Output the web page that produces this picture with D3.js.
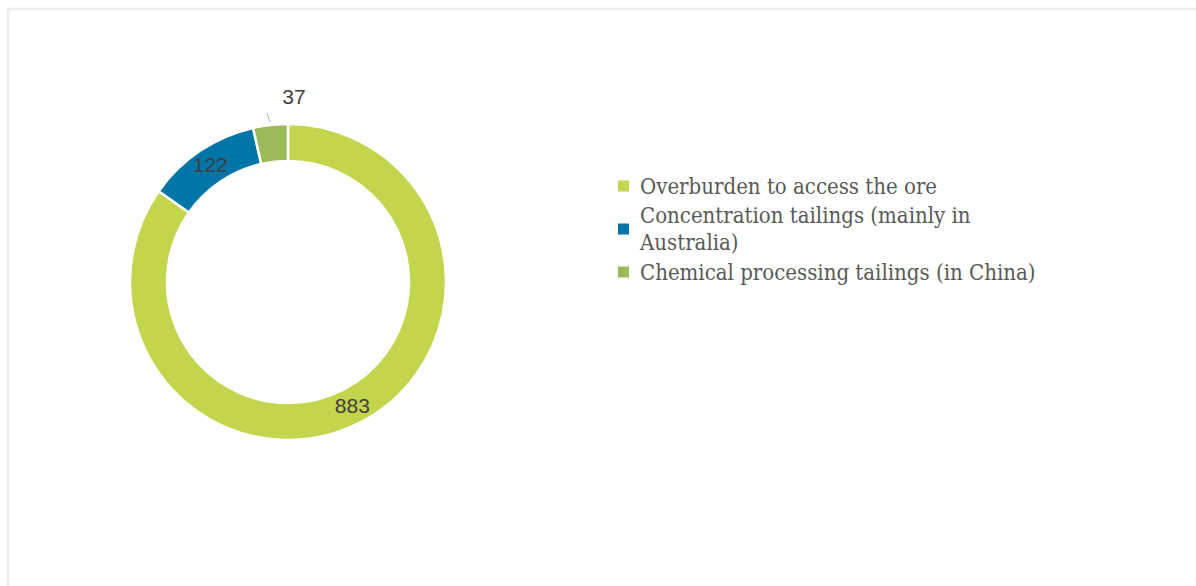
<!DOCTYPE html>
<html><head><meta charset="utf-8">
<script src="https://cdn.jsdelivr.net/npm/d3@7"></script>
<style>
html,body{margin:0;padding:0;background:#fff;}
svg{display:block;}
</style></head>
<body>
<svg id="chart" width="1196" height="586"></svg>
<script>
const categories = ["Overburden to access the ore", "Concentration tailings (mainly in Australia)", "Chemical processing tailings (in China)"];
const legendLines = [["Overburden to access the ore"], ["Concentration tailings (mainly in", "Australia)"], ["Chemical processing tailings (in China)"]];
const values = [883, 122, 37];
const colors = ["#C5D44D", "#0076A8", "#9BBB59"];

const svg = d3.select("#chart");
// frame
svg.append("rect").attr("x", 8).attr("y", 9).attr("width", 1200).attr("height", 600)
  .attr("fill", "none").attr("stroke", "#ececec").attr("stroke-width", 2.5);

const cx = 288, cy = 282, rOuter = 158, rInner = 121;
const pie = d3.pie().sort(null).value(d => d)(values);
const arc = d3.arc().innerRadius(rInner).outerRadius(rOuter);
const g = svg.append("g").attr("transform", `translate(${cx},${cy})`);
g.selectAll("path").data(pie).join("path")
  .attr("d", arc).attr("fill", (d, i) => colors[i])
  .attr("stroke", "#fff").attr("stroke-width", 2.5);

// labels
const labelArc = d3.arc().innerRadius((rInner + rOuter) / 2).outerRadius((rInner + rOuter) / 2);
const font = "'Liberation Sans', Arial, sans-serif";
pie.forEach((d, i) => {
  let [x, y] = labelArc.centroid(d);
  if (i === 2) {
    const mid = (d.startAngle + d.endAngle) / 2;
    const p1 = [Math.sin(mid) * (rOuter + 3), -Math.cos(mid) * (rOuter + 3)];
    const p2 = [Math.sin(mid) * (rOuter + 12), -Math.cos(mid) * (rOuter + 12)];
    g.append("line").attr("x1", p1[0]).attr("y1", p1[1]).attr("x2", p2[0] - 2).attr("y2", p2[1])
      .attr("stroke", "#b0b0b0").attr("stroke-width", 1);
    g.append("text").attr("x", 6).attr("y", -186).attr("text-anchor", "middle")
      .attr("dominant-baseline", "central").attr("font-family", font).attr("font-size", 21)
      .attr("fill", "#404040").text(values[i]);
  } else {
    const off = i === 0 ? [0, 0] : [0, -2];
    g.append("text").attr("x", x + off[0]).attr("y", y + off[1]).attr("text-anchor", "middle")
      .attr("dominant-baseline", "central").attr("font-family", font).attr("font-size", 21)
      .attr("fill", "#404040").text(values[i]);
  }
});

// legend
const lg = svg.append("g").attr("transform", "translate(618,0)");
const rowY = [186, 229, 272];
legendLines.forEach((lines, i) => {
  lg.append("rect").attr("x", 0).attr("y", rowY[i] - 5.5).attr("width", 11).attr("height", 11).attr("fill", colors[i]);
  const n = lines.length;
  lines.forEach((t, j) => {
    lg.append("text").attr("x", 22).attr("y", rowY[i] + (j - (n - 1) / 2) * 27)
      .attr("dominant-baseline", "central")
      .attr("font-family", "'DejaVu Serif Condensed', 'DejaVu Serif', serif")
      .attr("font-size", 22).attr("fill", "#595959").text(t);
  });
});
</script>
</body></html>
